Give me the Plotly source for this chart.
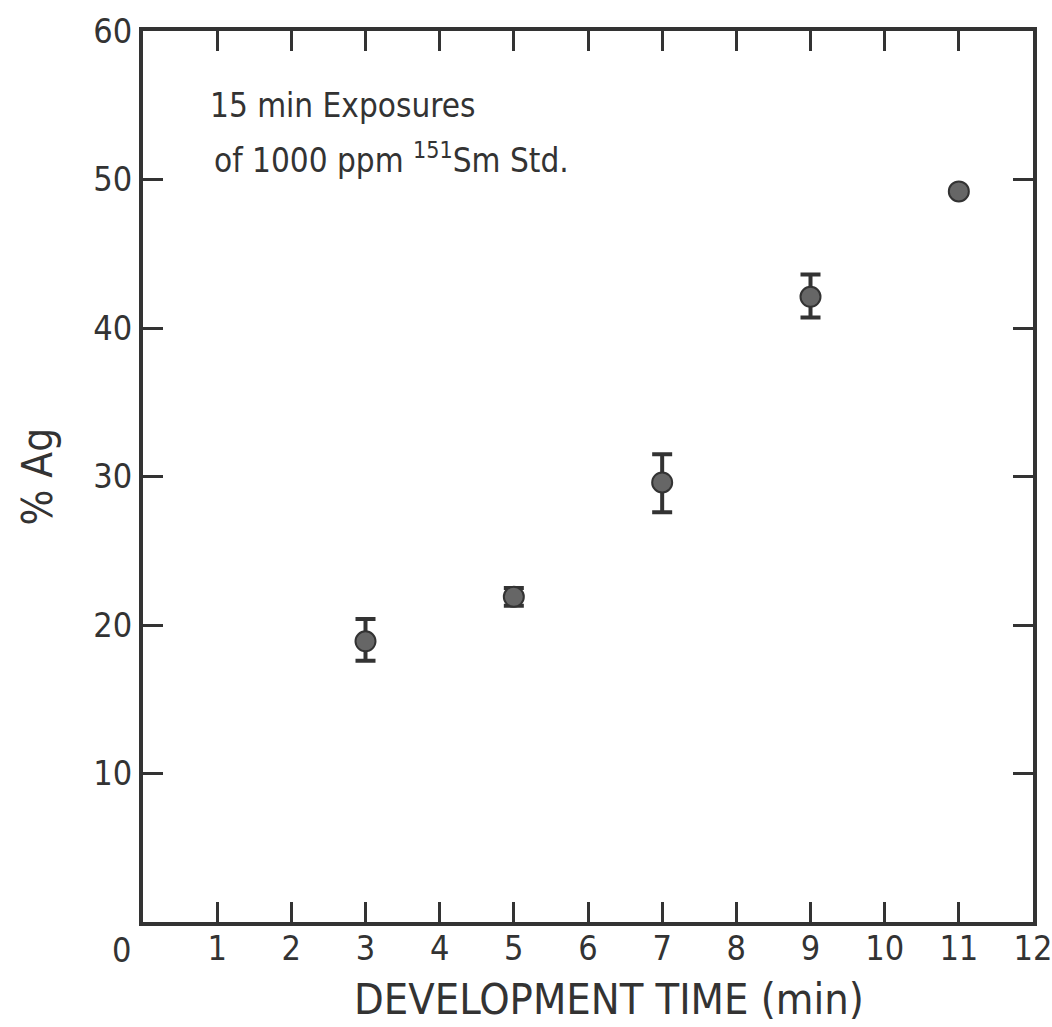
import plotly.graph_objects as go

# Development time (min) vs. percent silver, 15 min exposures of a 1000 ppm 151Sm standard
dev_time = [3, 5, 7, 9, 11]
pct_ag = [18.9, 21.9, 29.6, 42.1, 49.2]
err_plus = [1.5, 0.6, 1.9, 1.5, 0.0]
err_minus = [1.3, 0.6, 2.0, 1.4, 0.0]

x_ticks = list(range(1, 13))
y_ticks = [10, 20, 30, 40, 50, 60]

FONT = "DejaVu Sans Condensed, Liberation Sans Narrow, Arial Narrow, sans-serif"
INK = "#333333"

has_err = [e > 0 or m > 0 for e, m in zip(err_plus, err_minus)]

fig = go.Figure()

# points with error bars
fig.add_trace(go.Scatter(
    x=[t for t, h in zip(dev_time, has_err) if h],
    y=[v for v, h in zip(pct_ag, has_err) if h],
    mode="markers",
    marker=dict(size=20, color="#666666", line=dict(color=INK, width=2)),
    error_y=dict(
        type="data", symmetric=False,
        array=[e for e, h in zip(err_plus, has_err) if h],
        arrayminus=[e for e, h in zip(err_minus, has_err) if h],
        color=INK, thickness=4, width=10,
    ),
    showlegend=False,
))

# points without error bars
fig.add_trace(go.Scatter(
    x=[t for t, h in zip(dev_time, has_err) if not h],
    y=[v for v, h in zip(pct_ag, has_err) if not h],
    mode="markers",
    marker=dict(size=20, color="#666666", line=dict(color=INK, width=2)),
    showlegend=False,
))

fig.update_layout(
    width=1052, height=1027,
    margin=dict(l=143, r=19, t=31, b=105),
    paper_bgcolor="white", plot_bgcolor="white",
    font=dict(family=FONT, color=INK),
    xaxis=dict(
        range=[0, 12], tickvals=x_ticks, ticktext=[str(v) for v in x_ticks],
        ticks="inside", ticklen=20, tickwidth=3, tickcolor=INK,
        showline=True, linewidth=4, linecolor=INK, mirror="ticks",
        showgrid=False, zeroline=False, ticklabeloverflow="allow", automargin=False,
        ticklabelstandoff=-7,
        tickfont=dict(size=34, family=FONT, color=INK),
    ),
    yaxis=dict(
        range=[0, 60], tickvals=y_ticks, ticktext=[str(v) for v in y_ticks],
        ticks="inside", ticklen=20, tickwidth=3, tickcolor=INK,
        showline=True, linewidth=4, linecolor=INK, mirror="ticks",
        showgrid=False, zeroline=False, ticklabeloverflow="allow", automargin=False,
        tickfont=dict(size=34, family=FONT, color=INK),
    ),
    annotations=[
        # axis titles
        dict(x=0.524, y=-0.086, xref="paper", yref="paper", text="DEVELOPMENT TIME (min)",
             showarrow=False, xanchor="center", yanchor="middle",
             font=dict(size=43, family=FONT, color=INK)),
        dict(x=-0.119, y=0.5, xref="paper", yref="paper", text="% Ag", textangle=-90,
             showarrow=False, xanchor="center", yanchor="middle",
             font=dict(size=42, family=FONT, color=INK)),
        # origin label, set left of the corner
        dict(x=0, y=0, xref="x", yref="y", text="0", showarrow=False,
             xanchor="right", yanchor="top", xshift=-10, yshift=-6,
             font=dict(size=34, family=FONT, color=INK)),
        # exposure note
        dict(x=0.87, y=55.0, xref="x", yref="y", text="15 min Exposures",
             showarrow=False, xanchor="left", yanchor="middle",
             font=dict(size=33, family=FONT, color=INK)),
        dict(x=0.93, y=51.4, xref="x", yref="y", text="of 1000 ppm <sup>151</sup>Sm Std.",
             showarrow=False, xanchor="left", yanchor="middle",
             font=dict(size=33, family=FONT, color=INK)),
    ],
)

fig.write_html("out.html")
